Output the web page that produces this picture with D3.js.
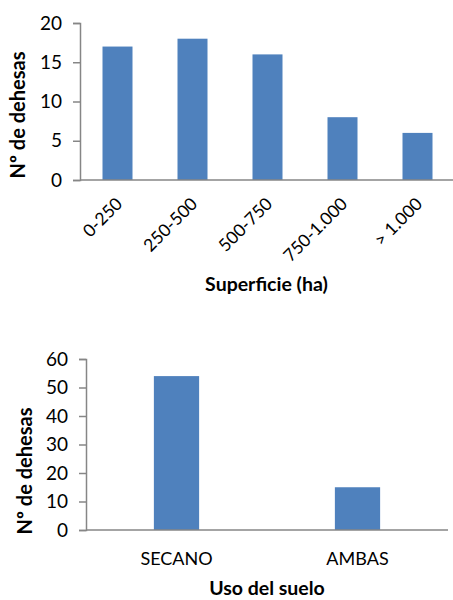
<!DOCTYPE html>
<html lang="es">
<head>
<meta charset="utf-8">
<title>Dehesas</title>
<style>
  html, body {margin: 0; padding: 0; background: #fff;}
  svg {display: block;}
  svg text {font-family: Lato, "Open Sans", sans-serif;}
  .axis path, .axis line {stroke: #868686; stroke-width: 1.5px;}
  .axis text {fill: #000;}
  .title {font-weight: bold; fill: #000;}
</style>
</head>
<body>
<svg id="chart" width="453" height="600"></svg>
<script src="https://cdn.jsdelivr.net/npm/d3@7"></script>
<script>
  // chart 1: superficie
  var sizeCats = ['0-250', '250-500', '500-750', '750-1.000', '> 1.000'];
  var sizeVals = [17, 18, 16, 8, 6];
  var sizeTicks = [0, 5, 10, 15, 20];

  // chart 2: uso del suelo
  var useCats = ['SECANO', 'AMBAS'];
  var useVals = [54, 15];
  var useTicks = [0, 10, 20, 30, 40, 50, 60];

  var barColor = '#4f81bd';
  var svg = d3.select('#chart');

  function drawChart(opt) {
    var g = svg.append('g');
    var x = d3.scaleBand().domain(opt.cats).range([opt.left, opt.right]).paddingInner(opt.pad).paddingOuter(opt.pad / 2);
    var y = d3.scaleLinear().domain([0, d3.max(opt.ticks)]).range([opt.bottom, opt.top]);

    // y axis
    var ya = g.append('g').attr('class', 'axis')
      .attr('transform', 'translate(' + opt.left + ',0)')
      .call(d3.axisLeft(y).tickValues(opt.ticks).tickSize(7).tickPadding(11).tickSizeOuter(7));
    ya.attr('font-family', null);
    ya.selectAll('text').style('font-size', '19px');

    // bars
    g.selectAll('rect.bar').data(opt.vals).enter().append('rect')
      .attr('class', 'bar')
      .attr('x', function (d, i) { return x(opt.cats[i]); })
      .attr('width', x.bandwidth())
      .attr('y', function (d) { return y(d); })
      .attr('height', function (d) { return y(0) - y(d); })
      .attr('fill', barColor);

    // x axis (no ticks)
    var xa = g.append('g').attr('class', 'axis')
      .attr('transform', 'translate(0,' + opt.bottom + ')')
      .call(d3.axisBottom(x).tickSize(0).tickSizeOuter(0));
    xa.attr('font-family', null);
    xa.select('.domain').attr('d', 'M' + opt.left + ',0H' + opt.axisEnd);
    if (opt.rotate) {
      xa.selectAll('text')
        .style('font-size', '17.5px')
        .attr('text-anchor', 'end')
        .attr('dy', null).attr('y', 0)
        .attr('transform', 'translate(6,25) rotate(-45)');
    } else {
      xa.selectAll('text').style('font-size', '18px').attr('y', 22).attr('dy', '0.71em');
    }

    // titles
    g.append('text').attr('class', 'title')
      .attr('x', (opt.left + opt.axisEnd) / 2).attr('y', opt.xTitleY)
      .attr('text-anchor', 'middle').style('font-size', '19.5px')
      .text(opt.xTitle);
    g.append('text').attr('class', 'title')
      .attr('transform', 'translate(' + opt.yTitleX + ',' + opt.yTitleMid + ') rotate(-90)')
      .attr('text-anchor', 'middle').attr('dy', '0.35em').style('font-size', '20px')
      .text('Nº de dehesas');
  }

  drawChart({
    cats: sizeCats, vals: sizeVals, ticks: sizeTicks,
    left: 80, right: 455, axisEnd: 453, top: 23, bottom: 180, pad: 0.6,
    rotate: true, xTitle: 'Superficie (ha)', xTitleY: 291,
    yTitleX: 18, yTitleMid: 115
  });

  drawChart({
    cats: useCats, vals: useVals, ticks: useTicks,
    left: 86, right: 448, axisEnd: 448, top: 359, bottom: 530, pad: 0.75,
    rotate: false, xTitle: 'Uso del suelo', xTitleY: 595,
    yTitleX: 25, yTitleMid: 471
  });
</script>
</body>
</html>
